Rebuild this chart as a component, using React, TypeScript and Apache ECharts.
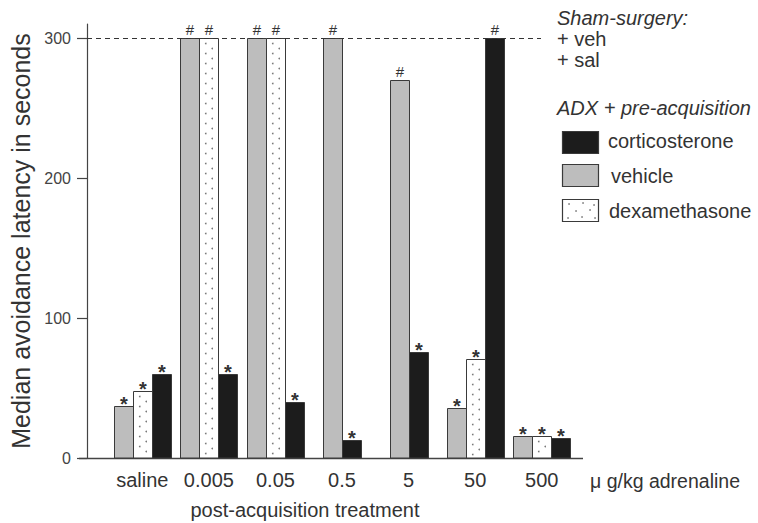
import React, { useEffect, useRef } from "react";
import * as echarts from "echarts";

// ---- data ----
const categories = ["saline", "0.005", "0.05", "0.5", "5", "50", "500"];
const vehicle = [37, 300, 300, 300, 270, 36, 16];
const dexamethasone: (number | null)[] = [48, 300, 300, null, null, 71, 16];
const corticosterone = [60, 60, 40, 13, 76, 300, 14];
const vehicleMarks = ["*", "#", "#", "#", "#", "*", "*"];
const dexamethasoneMarks = ["*", "#", "#", "", "", "*", "*"];
const corticosteroneMarks = ["*", "*", "*", "*", "*", "#", "*"];
const yTicks = [0, 100, 200, 300];
const shamLevel = 300;
const yMax = 310;

const FONT = '"Liberation Sans", Arial, Helvetica, sans-serif';
const BW = 19;

type Group = {
  name: string;
  values: (number | null)[];
  marks: string[];
  fill: string;
  dotted: boolean;
};

const groups: Group[] = [
  { name: "vehicle", values: vehicle, marks: vehicleMarks, fill: "#bdbdbd", dotted: false },
  { name: "dexamethasone", values: dexamethasone, marks: dexamethasoneMarks, fill: "#ffffff", dotted: true },
  { name: "corticosterone", values: corticosterone, marks: corticosteroneMarks, fill: "#1c1c1c", dotted: false },
];

function makeRenderItem(g: Group) {
  return (params: any, api: any) => {
    const ci = api.value(0);
    const v = api.value(1);
    if (v == null || isNaN(v)) return null;
    const present = groups.filter((gg) => gg.values[ci] != null);
    const n = present.length;
    const k = present.indexOf(g);
    const p0 = api.coord([ci, 0]);
    const p1 = api.coord([ci, v]);
    const cx = p0[0];
    const base = Math.round(p0[1]);
    const top = Math.round(p1[1]) + 0.5;
    const x = Math.round(cx - (n * BW) / 2 + k * BW) + 0.5;
    const children: any[] = [
      {
        type: "rect",
        shape: { x, y: top, width: BW, height: base - top },
        style: { fill: g.fill, stroke: "#3a3a3a", lineWidth: 1 },
      },
    ];
    if (g.dotted) {
      let row = 0;
      for (let yy = top + 5; yy < base - 2; yy += 5) {
        const fx = row % 2 === 0 ? 0.33 : 0.67;
        children.push({
          type: "circle",
          shape: { cx: x + BW * fx, cy: yy, r: 0.8 },
          style: { fill: "#777" },
        });
        row++;
      }
    }
    const mark = g.marks[ci];
    if (mark) {
      const isStar = mark === "*";
      children.push({
        type: "text",
        x: x + BW / 2,
        y: isStar ? top - 3 : top - 9,
        style: {
          text: mark,
          align: "center",
          verticalAlign: "middle",
          textAlign: "center",
          textVerticalAlign: "middle",
          fontFamily: FONT,
          fontSize: isStar ? 20 : 15,
          fontWeight: isStar ? "bold" : "normal",
          fill: "#333",
        },
      });
    }
    return { type: "group", children };
  };
}

export default function App() {
  const ref = useRef<HTMLDivElement>(null);
  useEffect(() => {
    if (!ref.current) return;
    const chart = echarts.init(ref.current, undefined, { renderer: "svg" });
    chart.setOption({
      animation: false,
      backgroundColor: "#ffffff",
      grid: { left: 108, right: 183, top: 24, bottom: 65 },
      xAxis: {
        type: "category",
        data: categories,
        axisLine: { show: false },
        axisTick: { show: false },
        axisLabel: { interval: 0, fontSize: 20, color: "#333", margin: 12, fontFamily: FONT },
      },
      yAxis: {
        type: "value",
        min: 0,
        max: yMax,
        offset: 22,
        axisLine: { show: true, lineStyle: { color: "#444", width: 1.2 } },
        axisTick: { show: true, length: 10, customValues: yTicks, lineStyle: { color: "#444", width: 1.2 } },
        axisLabel: { customValues: yTicks, fontSize: 16, color: "#444", margin: 16, fontFamily: FONT },
        splitLine: { show: false },
        name: "Median avoidance latency in seconds",
        nameLocation: "middle",
        nameGap: 54,
        nameTextStyle: { fontSize: 25, color: "#333", fontFamily: FONT },
      },
      series: groups.map((g) => ({
        type: "custom",
        name: g.name,
        renderItem: makeRenderItem(g),
        encode: { x: 0, y: 1 },
        data: g.values.map((v, i) => [i, v == null ? "-" : v]),
        clip: false,
      })),
    });

    const y0 = chart.convertToPixel({ yAxisIndex: 0 }, 0) as number;
    const yS = chart.convertToPixel({ yAxisIndex: 0 }, shamLevel) as number;
    const txt = (text: string, x: number, y: number, extra: any = {}) => ({
      type: "text",
      x,
      y,
      silent: true,
      style: {
        text,
        fontFamily: FONT,
        fontSize: 20,
        fill: "#333",
        align: "left",
        verticalAlign: "middle",
        textAlign: "left",
        textVerticalAlign: "middle",
        ...extra,
      },
    });
    const legendBoxes = [
      { g: groups[2], y: 131, tx: 608, ty: 141 },
      { g: groups[0], y: 164, tx: 611, ty: 176 },
      { g: groups[1], y: 199, tx: 609, ty: 211 },
    ];
    const graphic: any[] = [
      {
        type: "line",
        silent: true,
        shape: { x1: 79, y1: Math.round(y0) + 0.5, x2: 583, y2: Math.round(y0) + 0.5 },
        style: { stroke: "#444", lineWidth: 1.3 },
      },
      {
        type: "line",
        silent: true,
        z: 10,
        shape: { x1: 87, y1: Math.round(yS) + 0.5, x2: 541, y2: Math.round(yS) + 0.5 },
        style: { stroke: "#333", lineWidth: 1, lineDash: [5, 4] },
      },
      txt("Sham-surgery:", 557, 18, { fontStyle: "italic" }),
      txt("+ veh", 557, 39),
      txt("+ sal", 557, 60),
      txt("ADX + pre-acquisition", 557, 108, { fontStyle: "italic" }),
      txt("post-acquisition treatment", 305, 510, { align: "center", textAlign: "center" }),
      txt("\u03bc g/kg adrenaline", 590, 481, { fontSize: 19.5 }),
    ];
    legendBoxes.forEach((b) => {
      graphic.push({
        type: "rect",
        silent: true,
        shape: { x: 562.5, y: b.y + 0.5, width: 36, height: 22 },
        style: { fill: b.g.fill, stroke: "#3a3a3a", lineWidth: 1.2 },
      });
      if (b.g.dotted) {
        const pts = [
          [569, b.y + 5], [583, b.y + 4], [594, b.y + 6],
          [576, b.y + 12], [590, b.y + 11],
          [568, b.y + 19], [582, b.y + 18], [595, b.y + 19],
        ];
        pts.forEach((p) =>
          graphic.push({ type: "circle", silent: true, shape: { cx: p[0], cy: p[1], r: 0.8 }, style: { fill: "#777" } })
        );
      }
      graphic.push(txt(b.g.name, b.tx, b.ty));
    });
    chart.setOption({ graphic });
    return () => chart.dispose();
  }, []);
  return <div ref={ref} style={{ width: 758, height: 523, position: "absolute", left: 0, top: 0 }} />;
}
